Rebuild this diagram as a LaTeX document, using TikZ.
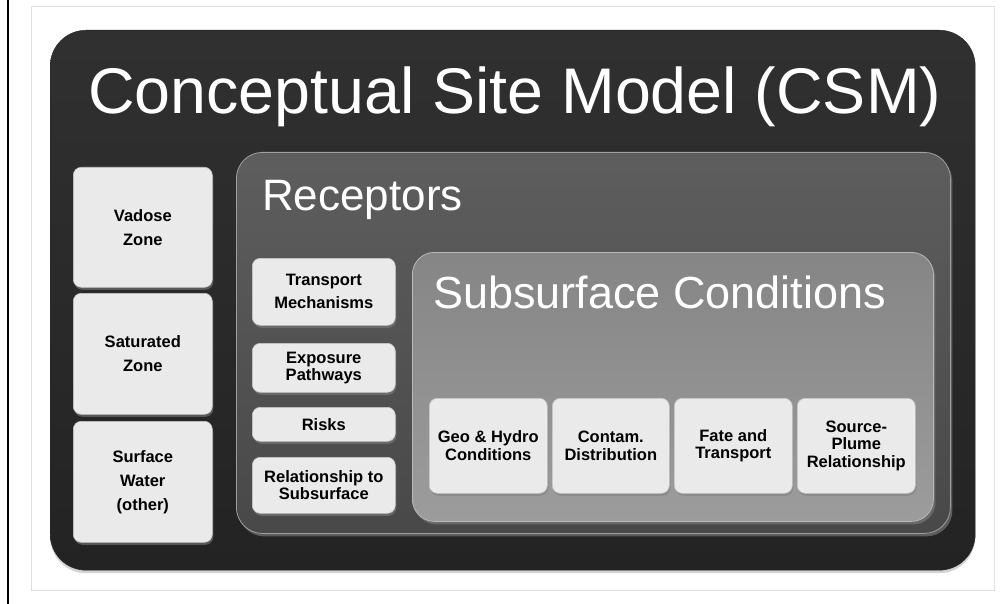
\documentclass[tikz,border=0pt]{standalone}
\usepackage{fontspec}
\setmainfont{Liberation Sans}
\usetikzlibrary{positioning,shadows}
\definecolor{csmdark}{HTML}{232323}
\definecolor{recgray}{HTML}{555555}
\definecolor{subgray}{HTML}{919191}
\definecolor{boxgray}{HTML}{EAEAEA}

\begin{document}
\begin{tikzpicture}[x=1pt,y=-1pt,
panel/.style={
    rectangle,
    anchor=north west,
    inner sep=0pt
    },
rec/.style={
    rectangle,
    rounded corners=8pt,
    anchor=north west,
    align=center,
    fill=boxgray,
    draw=gray!45,
    line width=0.6pt,
    inner sep=0pt,
    font=\bfseries\fontsize{16.5}{17.5}\selectfont,
    drop shadow={opacity=0.55,shadow xshift=1pt,shadow yshift=-2.5pt}
    },
heading/.style={
    anchor=base west,
    text=white,
    inner sep=0pt}
]
\useasboundingbox (0,0) rectangle (1003,604);
\fill[white] (0,0) rectangle (1003,604);
\draw[black,line width=2pt] (8,0) -- (8,604);
\draw[gray!25,line width=1pt] (31,7) rectangle (994,590);
% outer and inner panels
\node(csm) at (50,30) [panel,rounded corners=36pt,minimum width=925pt,minimum height=540pt,
    top color=csmdark!94!white,bottom color=csmdark,draw=csmdark,
    drop shadow={opacity=0.35,shadow xshift=0pt,shadow yshift=-3pt}] {};
\node(receptors) at (236,152) [panel,rounded corners=26pt,minimum width=714pt,minimum height=381pt,
    top color=recgray!95!white,bottom color=recgray!85!black,draw=gray!75,line width=0.8pt,
    drop shadow={opacity=0.6,shadow xshift=2pt,shadow yshift=-3pt}] {};
\node(subsurface) at (412,252) [panel,rounded corners=22pt,minimum width=521pt,minimum height=269pt,
    top color=subgray!92!black,bottom color=subgray!90!white,draw=gray!55,line width=0.8pt,
    drop shadow={opacity=0.6,shadow xshift=2pt,shadow yshift=-3pt}] {};
% headings
\node(title) at (88,114) [heading,font=\fontsize{64.5}{64}\selectfont] {Conceptual Site Model (CSM)};
\node(rectitle) at (262,210) [heading,font=\fontsize{44}{44}\selectfont] {Receptors};
\node(subtitle) at (433,308) [heading,font=\fontsize{45}{45}\selectfont] {Subsurface Conditions};
% zones
\node(vadose) at (73,167) [rec,minimum width=139pt,minimum height=120pt,font=\bfseries\fontsize{16.5}{24}\selectfont] {Vadose\\ Zone};
\node(saturated) at (73,293) [rec,minimum width=139pt,minimum height=121pt,font=\bfseries\fontsize{16.5}{24}\selectfont] {Saturated\\ Zone};
\node(surface) at (73,421) [rec,minimum width=139pt,minimum height=121pt,font=\bfseries\fontsize{16.5}{24}\selectfont] {Surface\\ Water\\ (other)};
% receptor items
\node(transport) at (252,258) [rec,minimum width=143pt,minimum height=67pt,font=\bfseries\fontsize{16.5}{23}\selectfont] {Transport\\ Mechanisms};
\node(exposure) at (252,343) [rec,minimum width=143pt,minimum height=49pt] {Exposure\\ Pathways};
\node(risks) at (252,407) [rec,minimum width=143pt,minimum height=34pt] {Risks};
\node(relation) at (252,457) [rec,minimum width=143pt,minimum height=56pt] {Relationship to\\ Subsurface};
% subsurface items
\node(geo) at (429,398) [rec,minimum width=118pt,minimum height=95pt] {Geo \& Hydro\\ Conditions};
\node(contam) at (552,398) [rec,minimum width=117pt,minimum height=95pt] {Contam.\\ Distribution};
\node(fate) at (674,398) [rec,minimum width=118pt,minimum height=95pt] {Fate and\\ Transport};
\node(source) at (797,398) [rec,minimum width=118pt,minimum height=95pt] {Source-\\ Plume\\ Relationship};
\end{tikzpicture}
\end{document}
